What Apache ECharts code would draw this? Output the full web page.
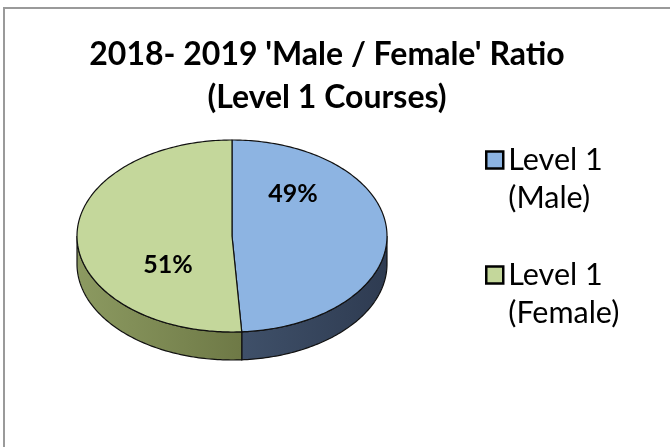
<!DOCTYPE html>
<html>
<head>
<meta charset="utf-8">
<script src="https://cdn.jsdelivr.net/npm/echarts@6/dist/echarts.min.js"></script>
<style>
html,body{margin:0;padding:0;background:#fff;}
#main{width:670px;height:447px;}
</style>
</head>
<body>
<div id="main"></div>
<script>
// ---- data ----
const categories = ['Level 1\n(Male)', 'Level 1\n(Female)'];
const values = [49, 51];
const titleLines = ["2018- 2019 'Male / Female' Ratio", "(Level 1 Courses)"];

// ---- styles ----
const topColors = ['#8db4e2', '#c4d79b'];
const sideColors = [['#3f5069', '#2e3b51'], ['#8c9a61', '#6e7946']];
const labelOffset = [[0.394, -0.438], [-0.413, 0.302]];
const FONT = 'Lato';

const total = values.reduce((a, b) => a + b, 0);
const starts = [];
values.reduce((acc, v) => { starts.push(acc); return acc + v; }, 0);

const geo = { cx: 232, cy: 236, rx: 155, ry: 96, depth: 28 };

function pt(a, dy) {
  const r = a * Math.PI / 180;
  return [geo.cx + geo.rx * Math.sin(r), geo.cy - geo.ry * Math.cos(r) + (dy || 0)];
}
function arc(a0, a1, dy) {
  const pts = [];
  const n = Math.max(2, Math.ceil(Math.abs(a1 - a0)));
  for (let k = 0; k <= n; k++) pts.push(pt(a0 + (a1 - a0) * k / n, dy));
  return pts;
}

const chart = echarts.init(document.getElementById('main'), null, { renderer: 'canvas' });

const series = categories.map((name, i) => ({
  type: 'custom',
  name: name,
  coordinateSystem: 'none',
  color: topColors[i],
  data: [[starts[i], values[i]]],
  renderItem: function (params, api) {
    const s = api.value(0), v = api.value(1);
    const a0 = s / total * 360, a1 = (s + v) / total * 360;
    const children = [];
    const lo = Math.max(a0, 90), hi = Math.min(a1, 270);
    if (lo < hi) {
      const sidePts = arc(lo, hi, 0).concat(arc(hi, lo, geo.depth));
      children.push({
        type: 'polygon',
        z2: 1,
        shape: { points: sidePts },
        style: {
          fill: new echarts.graphic.LinearGradient(0, 0, 1, 0, [
            { offset: 0, color: sideColors[i][0] },
            { offset: 1, color: sideColors[i][1] }
          ]),
          stroke: '#111',
          lineWidth: 1.2
        }
      });
    }
    const topPts = [[geo.cx, geo.cy]].concat(arc(a0, a1, 0));
    children.push({
      type: 'polygon',
      z2: 5,
      shape: { points: topPts },
      style: { fill: topColors[i], stroke: '#111', lineWidth: 1.2, lineJoin: 'round' }
    });
    const pct = Math.round(v / total * 100) + '%';
    children.push({
      type: 'text',
      z2: 10,
      x: geo.cx + labelOffset[i][0] * geo.rx,
      y: geo.cy + labelOffset[i][1] * geo.ry,
      style: {
        text: pct,
        fontFamily: FONT,
        fontWeight: 'bold',
        fontSize: 25,
        fill: '#000',
        align: 'center',
        verticalAlign: 'middle'
      }
    });
    return { type: 'group', children: children };
  }
}));

chart.setOption({
  animation: false,
  backgroundColor: '#fff',
  title: {
    text: titleLines.join('\n'),
    left: 322,
    top: 28,
    textAlign: 'center',
    textStyle: {
      fontFamily: FONT,
      fontWeight: 'bold',
      fontSize: 32,
      lineHeight: 43,
      color: '#000'
    }
  },
  legend: {
    orient: 'vertical',
    left: 485,
    top: 103,
    padding: 0,
    itemGap: 1,
    itemWidth: 17,
    itemHeight: 17,
    itemTextGap: 13,
    icon: 'rect',
    selectedMode: false,
    data: categories,
    formatter: function (n) { return '\n' + n; },
    itemStyle: { borderColor: '#000', borderWidth: 2.5 },
    textStyle: { fontFamily: FONT, fontSize: 30.5, lineHeight: 38, color: '#000' }
  },
  graphic: [{
    type: 'rect',
    shape: { x: 4, y: 8, width: 720, height: 500 },
    style: { fill: 'none', stroke: '#9a9a9a', lineWidth: 2 },
    silent: true,
    z: -1
  }],
  series: series
});
</script>
</body>
</html>
